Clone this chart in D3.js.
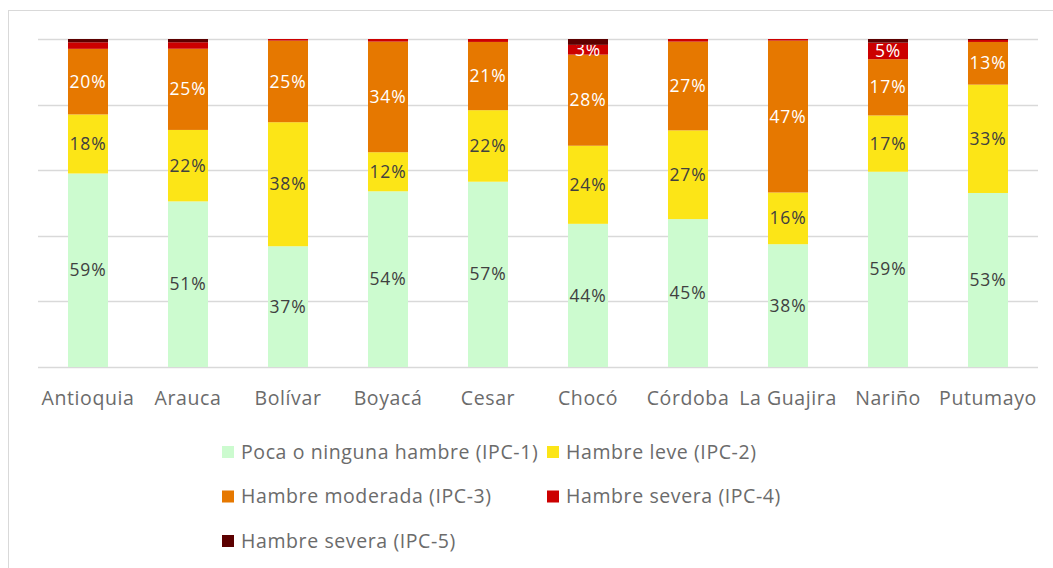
<!DOCTYPE html>
<html>
<head>
<meta charset="utf-8">
<script src="https://cdn.jsdelivr.net/npm/d3@7"></script>
<style>
  body { margin: 0; background: #fff; }
  svg text { font-family: "Open Sans", sans-serif; }
</style>
</head>
<body>
<div id="chart"></div>
<script>
// departamentos
var categories = ['Antioquia', 'Arauca', 'Bolívar', 'Boyacá', 'Cesar', 'Chocó',
  'Córdoba', 'La Guajira', 'Nariño', 'Putumayo'];

// % of population per IPC phase
var ipc1 = [59, 51, 37, 54, 57, 44, 45, 38, 59, 53];
var ipc2 = [18, 22, 38, 12, 22, 24, 27, 16, 17, 33];
var ipc3 = [20, 25, 25, 34, 21, 28, 27, 47, 17, 13];
var ipc4 = [2, 2, 0.5, 0.8, 0.9, 3, 0.8, 0.5, 5, 0.6];
var ipc5 = [1, 1, 0, 0, 0, 1.8, 0, 0, 1.1, 0.3];

var seriesNames = ['Poca o ninguna hambre (IPC-1)', 'Hambre leve (IPC-2)',
  'Hambre moderada (IPC-3)', 'Hambre severa (IPC-4)', 'Hambre severa (IPC-5)'];
var seriesColors = ['#ccfbcf', '#fce517', '#e67800', '#cc0000', '#5c0000'];
var labelColors = ['#404040', '#404040', '#ffffff', '#ffffff', '#ffffff'];
var yTicks = [0, 20, 40, 60, 80, 100];

var width = 1053, height = 568;
var margin = { left: 38, right: 15, top: 39, bottom: 201 };

var keys = ['ipc1', 'ipc2', 'ipc3', 'ipc4', 'ipc5'];
var rows = categories.map(function(c, i) {
  return { name: c, ipc1: ipc1[i], ipc2: ipc2[i], ipc3: ipc3[i], ipc4: ipc4[i], ipc5: ipc5[i] };
});

// 100% stacked
var stacked = d3.stack().keys(keys).offset(d3.stackOffsetExpand)(rows);

var svg = d3.select('#chart').append('svg')
  .attr('width', width)
  .attr('height', height);

svg.append('rect')
  .attr('x', 8.5).attr('y', 10.5)
  .attr('width', 1200).attr('height', 800)
  .attr('fill', 'none')
  .attr('stroke', '#d9d9d9')
  .attr('stroke-width', 1);

var x = d3.scaleBand()
  .domain(categories)
  .range([margin.left, width - margin.right])
  .paddingInner(0.6)
  .paddingOuter(0.3);

var y = d3.scaleLinear()
  .domain([0, 1])
  .range([height - margin.bottom, margin.top]);

// gridlines
svg.append('g')
  .attr('class', 'grid')
  .selectAll('line')
  .data(yTicks)
  .enter().append('line')
  .attr('x1', margin.left)
  .attr('x2', width - margin.right)
  .attr('y1', function(t) { return Math.round(y(t / 100)) + 0.5; })
  .attr('y2', function(t) { return Math.round(y(t / 100)) + 0.5; })
  .attr('stroke', '#d9d9d9')
  .attr('stroke-width', 1.5);

var layer = svg.selectAll('g.layer')
  .data(stacked)
  .enter().append('g')
  .attr('class', 'layer')
  .attr('fill', function(s, i) { return seriesColors[i]; });

layer.selectAll('rect')
  .data(function(s) { return s; })
  .enter().append('rect')
  .attr('x', function(d) { return x(d.data.name); })
  .attr('width', x.bandwidth())
  .attr('y', function(d) { return y(d[1]); })
  .attr('height', function(d) { return y(d[0]) - y(d[1]); });

// data labels (hidden for the tiny slices)
layer.each(function(s, si) {
  d3.select(this).selectAll('text')
    .data(s.filter(function(d) { return d.data[s.key] >= 3; }))
    .enter().append('text')
    .attr('x', function(d) { return x(d.data.name) + x.bandwidth() / 2; })
    .attr('y', function(d) { return (y(d[0]) + y(d[1])) / 2; })
    .attr('dy', '0.35em')
    .attr('text-anchor', 'middle')
    .attr('fill', labelColors[si])
    .attr('font-size', '17.5px')
    .attr('letter-spacing', '0.8px')
    .text(function(d) { return Math.round(d.data[s.key]) + '%'; });
});

// x axis labels
var xAxis = svg.append('g')
  .attr('transform', 'translate(0,' + (height - margin.bottom) + ')')
  .call(d3.axisBottom(x).tickSize(0).tickPadding(24));
xAxis.select('.domain').remove();
xAxis.selectAll('text')
  .attr('font-size', '19.5px')
  .attr('letter-spacing', '0.6px')
  .attr('font-family', '"Open Sans", sans-serif')
  .attr('fill', '#6b6b6b');

// legend, two columns like the original
var legendCols = [222, 547];
var legend = svg.append('g').attr('class', 'legend')
  .selectAll('g')
  .data(seriesNames)
  .enter().append('g')
  .attr('transform', function(n, i) {
    return 'translate(' + legendCols[i % 2] + ',' + (452 + Math.floor(i / 2) * 44.5) + ')';
  });
legend.append('rect')
  .attr('x', 0).attr('y', -6)
  .attr('width', 12).attr('height', 12)
  .attr('fill', function(n, i) { return seriesColors[i]; });
legend.append('text')
  .attr('x', 19)
  .attr('dy', '0.35em')
  .attr('font-size', '19.5px')
  .attr('letter-spacing', '0.6px')
  .attr('fill', '#6b6b6b')
  .text(function(n) { return n; });
</script>
</body>
</html>
